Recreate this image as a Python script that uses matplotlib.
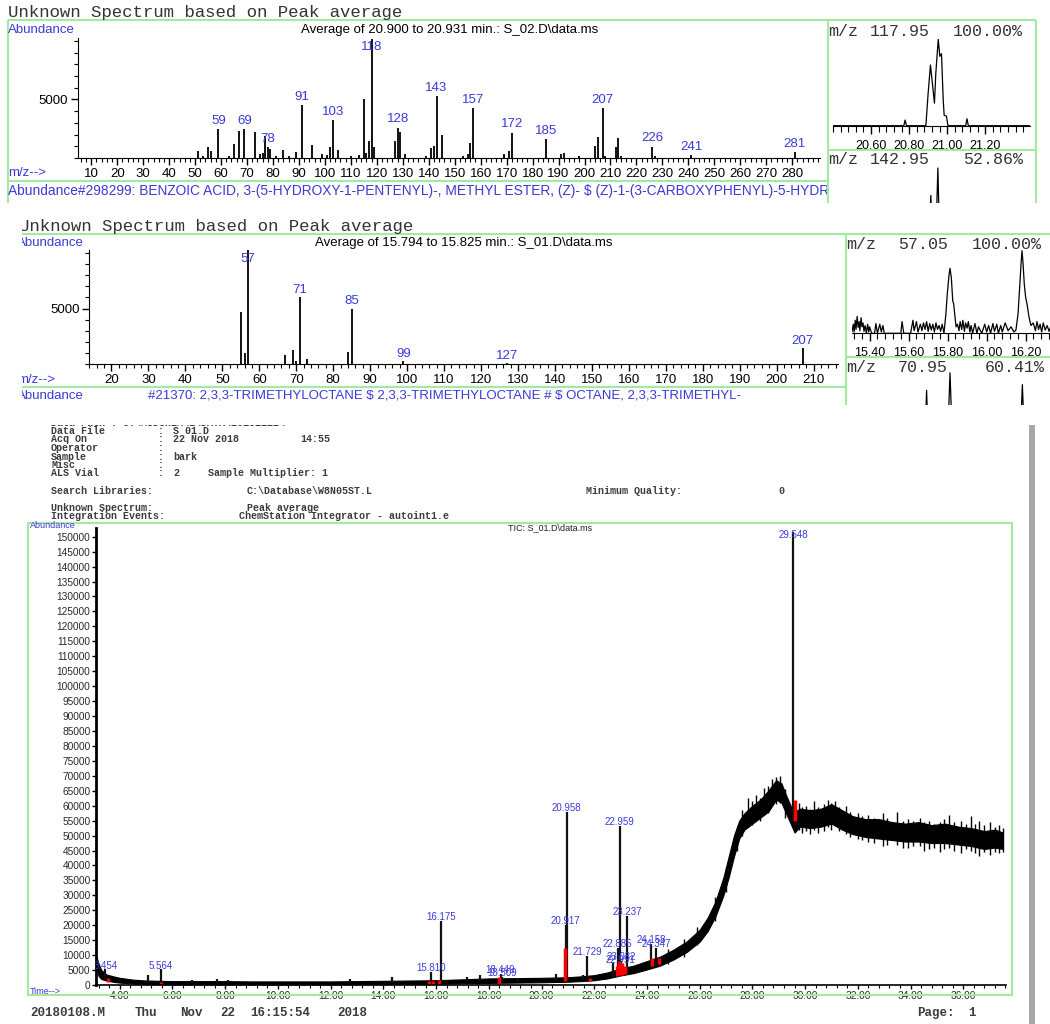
import matplotlib
matplotlib.use('Agg')
import matplotlib.pyplot as plt
import numpy as np
from matplotlib.patches import Rectangle
from matplotlib.ticker import MultipleLocator

plt.rcParams['font.family'] = ['Liberation Sans', 'DejaVu Sans']

BLUE = '#3a3ad8'
GREEN = '#a2eaa2'
GREY = '#3c3c3c'
MONO = ['Liberation Mono', 'DejaVu Sans Mono']

# --- spectrum 1 (S_02.D, 20.900 - 20.931 min)
s1_mz = [51, 53, 55, 56, 59, 63, 65, 67, 69, 73, 75, 76, 77, 78, 79, 81, 84, 86, 89, 91,
         95, 99, 101, 102, 103, 105, 110, 113, 115, 116, 117, 118, 119, 127, 128, 129,
         131, 139, 141, 142, 143, 145, 153, 155, 156, 157, 169, 171, 172, 185, 191, 192,
         198, 204, 205, 207, 208, 212, 213, 214, 226, 227, 241, 281]
s1_ab = [560, 150, 980, 560, 2480, 200, 1190, 2310, 2480, 2200, 300, 400, 1910, 960, 790, 200,
         700, 150, 470, 4510, 1100, 300, 250, 900, 3220, 680, 150, 250, 5080, 450, 1470,
         10200, 900, 1490, 2590, 2250, 300, 200, 880, 1050, 5280, 1970, 200, 300, 1240,
         4290, 300, 560, 2170, 1600, 350, 400, 150, 1050, 1800, 4290, 200, 980, 1690, 150,
         980, 150, 280, 470]
s1_labels = [59, 69, 78, 91, 103, 118, 128, 143, 157, 172, 185, 207, 226, 241, 281]
s1_ticks = list(range(10, 281, 10))

# --- spectrum 2 (S_01.D, 15.794 - 15.825 min)
s2_mz = [55, 56, 57, 67, 69, 70, 71, 73, 84, 85, 99, 127, 207]
s2_ab = [4700, 1040, 10300, 830, 1250, 320, 6040, 450, 1130, 5000, 300, 100, 1480]
s2_labels = [57, 71, 85, 99, 127, 207]
s2_ticks = list(range(20, 211, 10))

# --- ion traces (percent of the shown ion)
ion1_t = [20.40, 20.772, 20.779, 20.786, 20.888, 20.900, 20.912, 20.923, 20.933, 20.940,
          20.953, 20.961, 20.970, 20.979, 20.984, 20.996, 21.004, 21.097, 21.104, 21.111, 21.435]
ion1_v = [0, 0, 6.5, 0, 0, 38, 70, 47, 26, 60, 100, 80, 83, 30, 12, 11, 0, 0, 8, 0, 0]
ion1b_t = [20.40, 20.905, 20.914, 20.922, 20.940, 20.951, 20.960, 21.435]
ion1b_v = [0, 0, 60, 0, 0, 96, 0, 0]
ion1_ticks = [20.60, 20.80, 21.00, 21.20]

ion2_t = [15.310, 15.316, 15.320, 15.326, 15.330, 15.336, 15.341, 15.346, 15.350, 15.356,
          15.361, 15.366, 15.371, 15.377, 15.383, 15.390, 15.395, 15.400, 15.410, 15.425,
          15.432, 15.440, 15.452, 15.460, 15.468, 15.475, 15.490, 15.520, 15.560, 15.566,
          15.575, 15.610, 15.622, 15.628, 15.640, 15.648, 15.660, 15.668, 15.676, 15.684,
          15.692, 15.700, 15.708, 15.716, 15.724, 15.732, 15.740, 15.748, 15.756, 15.764,
          15.772, 15.781, 15.791, 15.798, 15.807, 15.812, 15.819, 15.826, 15.831, 15.836,
          15.843, 15.850, 15.858, 15.864, 15.872, 15.878, 15.886, 15.892, 15.900, 15.906,
          15.914, 15.920, 15.928, 15.940, 15.950, 15.958, 15.975, 15.990, 16.000, 16.010,
          16.020, 16.032, 16.040, 16.052, 16.060, 16.072, 16.080, 16.095, 16.110, 16.125,
          16.140, 16.150, 16.161, 16.169, 16.176, 16.181, 16.186, 16.193, 16.200, 16.207,
          16.217, 16.227, 16.239, 16.250, 16.258, 16.266, 16.274, 16.282, 16.290, 16.300,
          16.310, 16.320, 16.335, 16.350, 16.376]
ion2_v = [3, 14, 2, 20, 6, 26, 9, 18, 4, 24, 10, 16, 3, 12, 0, 14, 2, 10, 0, 0,
          15, 0, 14, 2, 12, 0, 0, 0, 0, 18, 0, 0, 20, 4, 18, 2, 14, 4, 16, 6,
          18, 3, 15, 5, 14, 2, 16, 6, 12, 3, 14, 0, 30, 60, 90, 100, 85, 50, 45, 30,
          10, 14, 4, 18, 6, 20, 3, 16, 8, 18, 2, 12, 0, 15, 0, 10, 0, 14, 2, 12,
          0, 15, 3, 14, 0, 12, 2, 16, 4, 10, 2, 5, 30, 70, 105, 127, 110, 75, 55, 45,
          25, 12, 16, 4, 18, 6, 14, 2, 16, 5, 12, 3, 15, 4, 10]
ion2b_t = [15.31, 15.684, 15.692, 15.700, 15.800, 15.812, 15.824, 16.172, 16.183, 16.194, 16.376]
ion2b_v = [0, 0, 71, 0, 0, 96, 0, 0, 79, 0, 0]
ion2_ticks = [15.40, 15.60, 15.80, 16.00, 16.20]

# --- TIC S_01.D : noise band (lower / upper edge)
tic_t = [3.10, 3.20, 3.30, 3.50, 3.80, 4.0, 4.5, 5.0, 6.0, 7.0, 8.0, 9.0, 10.0, 11.0, 12.0,
         13.0, 14.0, 15.0, 16.0, 17.0, 18.0, 19.0, 20.0, 21.0, 21.5, 22.0, 22.5, 23.0, 23.5,
         24.0, 24.5, 25.0, 25.5, 26.0, 26.3, 26.6, 26.9, 27.1, 27.3, 27.5, 27.7, 28.0, 28.3,
         28.6, 28.9, 29.1, 29.3, 29.45, 29.6, 29.8, 30.2, 30.6, 31.0, 31.4, 31.8, 32.3, 32.8,
         33.3, 33.8, 34.3, 34.8, 35.3, 35.8, 36.3, 36.8, 37.2, 37.5]
tic_lo = [6000, 3000, 2000, 1500, 1000, 800, 500, 300, 200, 200, 200, 200, 200, 200, 200,
          300, 300, 400, 400, 600, 700, 800, 900, 1100, 1300, 1600, 2200, 3200, 4000,
          5200, 6500, 8500, 11000, 14500, 18000, 23000, 30000, 36000, 43000, 49000, 52000,
          54000, 56000, 58000, 62000, 61000, 57000, 54000, 51000, 53000, 52500, 53000, 54000,
          52000, 50500, 49500, 49000, 48500, 48000, 48000, 47500, 47500, 47000, 46500, 45500,
          46000, 45500]
tic_hi = [10000, 7000, 5000, 3500, 2800, 2400, 1800, 1500, 1300, 1300, 1300, 1200, 1200, 1200,
          1200, 1300, 1400, 1500, 1600, 1900, 2200, 2300, 2400, 2600, 2900, 3300, 4200, 5500,
          6500, 8000, 9500, 11800, 14500, 18500, 22500, 28000, 36000, 43000, 50000, 55000,
          57500, 60000, 62000, 65000, 68500, 67500, 63000, 60000, 58000, 59000, 58500, 59000,
          60500, 58500, 56500, 55500, 55500, 54500, 54000, 54500, 53500, 54000, 53000, 52500,
          51500, 52000, 51000]

# jagged noise spikes on the band
spike_t = [24.8, 25.4, 25.9, 26.6, 27.0, 27.4, 27.6, 27.85, 28.0, 28.15, 28.3, 28.45, 28.6,
           28.75, 28.9, 29.05, 29.25, 29.75, 29.9, 30.05, 30.2, 30.35, 30.5, 30.7, 30.85,
           31.0, 31.15, 31.3, 31.55, 31.7, 32.0, 32.15, 32.4, 32.6, 32.95, 33.1, 33.5, 33.7,
           33.9, 34.1, 34.35, 34.5, 34.7, 34.9, 35.1, 35.25, 35.45, 35.65, 35.9, 36.1, 36.3,
           36.45, 36.6, 36.8, 37.0, 37.2, 37.35, 37.5]
spike_lo = [7000, 9500, 13500, 21500, 31000, 45000, 50000, 53000, 53500, 55000, 55000, 57000,
            57500, 60000, 60500, 61000, 56000, 52000, 51000, 51500, 50500, 52000, 51000, 51500,
            53000, 52000, 53500, 51500, 50500, 49500, 49000, 48500, 48000, 47500, 46500, 47000,
            47000, 46000, 46000, 46500, 46500, 45000, 45500, 46000, 44500, 45500, 46000, 45000,
            44000, 45500, 45000, 44000, 43000, 44500, 43500, 44500, 44000, 44500]
spike_hi = [12000, 15500, 19500, 29500, 39000, 52500, 58500, 62500, 61500, 63500, 62500, 66000,
            66500, 69000, 69500, 70000, 65500, 61000, 59500, 60000, 59000, 61500, 59500, 60500,
            62000, 61000, 61500, 59500, 60000, 58000, 57500, 56500, 57000, 56000, 57500, 56000,
            58000, 55000, 55500, 55000, 56000, 54500, 55000, 54000, 54500, 55500, 57000, 54500,
            55000, 54000, 56500, 54000, 55000, 53500, 54500, 53000, 53500, 52500]

# peaks: retention time, foot, apex, labelled?
pk_t = [3.454, 5.07, 5.564, 6.73, 7.68, 8.11, 12.74, 14.32, 15.810, 16.175, 17.16, 17.67,
        18.449, 18.509, 19.09, 20.55, 20.917, 20.958, 21.58, 21.729, 22.70, 22.885, 22.959,
        22.991, 23.032, 23.237, 24.158, 24.347, 29.548]
pk_base = [2000, 800, 800, 800, 800, 800, 800, 800, 1000, 1000, 1200, 1200, 1500, 1500, 1500,
           1600, 1800, 1800, 2000, 2000, 2800, 3000, 3000, 3000, 3200, 3500, 6000, 6500, 55000]
pk_top = [5200, 3500, 5200, 1800, 1900, 1800, 2000, 2600, 4500, 21400, 2800, 3400, 3600, 2800,
          2500, 3600, 20000, 58000, 3200, 9700, 7500, 12400, 53200, 7000, 8000, 23100, 13600,
          12500, 151400]
pk_named = [1, 0, 1, 0, 0, 0, 0, 0, 1, 1, 0, 0, 1, 1, 0, 0, 1, 1, 0, 1, 0, 1, 1, 1, 1, 1, 1, 1, 1]

# red integration marks
red_t = [3.55, 5.56, 15.75, 15.87, 16.12, 18.40, 20.90, 21.85, 22.85, 22.95, 23.05, 23.15,
         24.20, 24.45, 29.60]
red_lo = [1000, 0, 300, 300, 300, 500, 1300, 1500, 3000, 3200, 3500, 3800, 6500, 7000, 55000]
red_hi = [2500, 1000, 1300, 1300, 1600, 2800, 12500, 2500, 6500, 8000, 7500, 6500, 9000, 9000, 62000]

W, H = 1050, 1024
fig = plt.figure(figsize=(W / 100, H / 100), dpi=100)


def px_axes(x0, y0, x1, y1):
    return fig.add_axes([x0 / W, 1 - y1 / H, (x1 - x0) / W, (y1 - y0) / H])


def spectrum(box, xlim, mz, ab, labels, ticks, off, cap):
    ax = px_axes(*box)
    ax.patch.set_visible(False)
    ax.vlines(mz, 0, ab, color='black', lw=1.3)
    for m in labels:
        h = ab[mz.index(m)]
        ax.text(m, min(h + off, cap), str(m), ha='center', va='center', color=BLUE, fontsize=9.5)
    ax.set_xlim(*xlim)
    ax.set_ylim(0, 10250)
    ax.spines[['top', 'right']].set_visible(False)
    ax.set_xticks(ticks)
    ax.xaxis.set_minor_locator(MultipleLocator(2))
    ax.set_yticks([5000])
    ax.yaxis.set_minor_locator(MultipleLocator(1000))
    ax.tick_params(which='major', length=5, width=1, labelsize=9.5, pad=2)
    ax.tick_params(which='minor', length=3, width=0.8)
    return ax


def ion_trace(box, xlim, t, v, ymax, ticks):
    ax = px_axes(*box)
    ax.patch.set_visible(False)
    ax.plot(t, v, color='black', lw=0.9)
    ax.set_xlim(*xlim)
    ax.set_ylim(0, ymax)
    ax.spines[['top', 'right', 'left']].set_visible(False)
    ax.set_yticks([])
    ax.set_xticks(ticks, [f'{x:.2f}' for x in ticks])
    ax.xaxis.set_minor_locator(MultipleLocator(0.04))
    ax.tick_params(which='major', length=6, width=1, labelsize=9, pad=4)
    ax.tick_params(which='minor', length=4, width=0.8)
    return ax


def ion_partial(box, xlim, t, v):
    ax = px_axes(*box)
    ax.plot(t, v, color='black', lw=0.9)
    ax.set_xlim(*xlim)
    ax.set_ylim(50, 100)
    ax.axis('off')


# spectra and their ion windows
spectrum((78, 38, 820, 158), (4.9, 290.7), s1_mz, s1_ab, s1_labels, s1_ticks, 700, 9500)
spectrum((89.3, 250, 838, 364.3), (14.0, 216.6), s2_mz, s2_ab, s2_labels, s2_ticks, 650, 9400)
ion_trace((833, 39, 1030, 125.7), (20.40, 21.435), ion1_t, ion1_v, 100, ion1_ticks)
ion_partial((833, 165, 1030, 203), (20.40, 21.435), ion1b_t, ion1b_v)
ion_trace((851.7, 240, 1060, 333.3), (15.308, 16.376), ion2_t, ion2_v, 143.5, ion2_ticks)
ion_partial((851.7, 370, 1060, 405), (15.308, 16.376), ion2b_t, ion2b_v)

# TIC chromatogram
ax = px_axes(96, 528, 1006, 985)
ax.patch.set_visible(False)
ax.fill_between(tic_t, tic_lo, tic_hi, color='black', lw=0.8)
ax.vlines(spike_t, spike_lo, spike_hi, color='black', lw=1.0)
ax.vlines(pk_t, pk_base, pk_top, color='#111111', lw=1.6)
ax.vlines(red_t, red_lo, red_hi, color='red', lw=2.5)
for t, top, named in zip(pk_t, pk_top, pk_named):
    if named:
        ax.text(t, min(top + 1300, 150600), f'{t:.3f}', ha='center', va='center',
                color=BLUE, fontsize=7, clip_on=True)
ax.set_xlim(3.10, 37.62)
ax.set_ylim(0, 152900)
ax.spines[['top', 'right']].set_visible(False)
ax.spines['left'].set_linewidth(2)
ax.spines['bottom'].set_linewidth(1.2)
xt = list(range(4, 37, 2))
ax.set_xticks(xt, [f'{x:.2f}' for x in xt])
ax.xaxis.set_minor_locator(MultipleLocator(0.4))
yt = list(range(0, 150001, 5000))
ax.set_yticks(yt, [str(y) for y in yt])
ax.tick_params(which='major', length=3, width=1, labelsize=7.3, pad=1, labelcolor='#2a2a2a')
ax.tick_params(which='minor', length=2, width=0.8)

# overlay for frames and page text
ov = px_axes(0, 0, W, H)
ov.set_xlim(0, W)
ov.set_ylim(H, 0)
ov.axis('off')
ov.set_zorder(10)


def line(x0, y0, x1, y1, color=GREEN, lw=1.5):
    ov.plot([x0, x1], [y0, y1], color=color, lw=lw, solid_capstyle='butt')


def txt(x, y, s, clip=None, **kw):
    kw.setdefault('va', 'center')
    kw.setdefault('parse_math', False)
    t = ov.text(x, y, s, **kw)
    if clip is not None:
        r = Rectangle((clip[0], clip[1]), clip[2] - clip[0], clip[3] - clip[1], transform=ov.transData)
        t.set_clip_on(True)
        t.set_clip_path(r)
    return t


# top block frames
line(8, 20, 1036, 20)
line(8, 20, 8, 203)
line(8, 181, 828, 181)
line(828, 20, 828, 203)
line(1036, 20, 1036, 203)
line(828, 150, 1036, 150)
# middle block frames
line(22, 234.3, 1050, 234.3)
line(846, 234.3, 846, 405)
line(22, 386.7, 846, 386.7)
line(846, 356.7, 1050, 356.7)
# chromatogram frame
ov.add_patch(Rectangle((28, 523), 984, 472, fill=False, ec=GREEN, lw=1.5))
ov.add_patch(Rectangle((1029, 425), 6, 599, color='#a8a8a8', lw=0))

# top block text
txt(8, 13, 'Unknown Spectrum based on Peak average', family=MONO, fontsize=12.5, color='#333333')
txt(8, 30, 'Abundance', color=BLUE, fontsize=9.5)
txt(450, 30, 'Average of 20.900 to 20.931 min.: S_02.D\\data.ms', ha='center', fontsize=9.5)
txt(8, 173, 'm/z-->', color=BLUE, fontsize=9.5)
txt(8, 191, 'Abundance#298299: BENZOIC ACID, 3-(5-HYDROXY-1-PENTENYL)-, METHYL ESTER, (Z)- '
    '$ (Z)-1-(3-CARBOXYPHENYL)-5-HYDROXY-1-PENTENE', clip=(8, 182, 827, 203),
    color=BLUE, fontsize=9.9)
for x, s in [(828, 'm/z'), (870, '117.95'), (953, '100.00%')]:
    txt(x, 31, s, family=MONO, fontsize=12, color='#333333')
for x, s in [(828, 'm/z'), (870, '142.95'), (963, '52.86%')]:
    txt(x, 160, s, family=MONO, fontsize=12, color='#333333')

# middle block text (left edge cut off)
txt(19, 226.7, 'Unknown Spectrum based on Peak average', family=MONO, fontsize=12.5, color='#333333')
txt(17, 242.7, 'Abundance', color=BLUE, fontsize=9.5)
txt(464, 243, 'Average of 15.794 to 15.825 min.: S_01.D\\data.ms', ha='center', fontsize=9.5)
txt(17, 380, 'm/z-->', color=BLUE, fontsize=9.5)
txt(17, 396, 'Abundance', color=BLUE, fontsize=9.5)
txt(148, 396, '#21370: 2,3,3-TRIMETHYLOCTANE $ 2,3,3-TRIMETHYLOCTANE # $ OCTANE, 2,3,3-TRIMETHYL-',
    color=BLUE, fontsize=9.5)
for x, s in [(846, 'm/z'), (898, '57.05'), (972, '100.00%')]:
    txt(x, 244.3, s, family=MONO, fontsize=12, color='#333333')
for x, s in [(846, 'm/z'), (898, '70.95'), (985, '60.41%')]:
    txt(x, 367.3, s, family=MONO, fontsize=12, color='#333333')

# report header
hdr = dict(family=MONO, fontsize=7.2, weight='bold', color=GREY)
txt(51, 422.5, 'Data Path : C:\\MSDCHEM\\1\\DATA\\20181122\\', **hdr)
rows = [(431, 'Data File', ':', 'S 01.D'),
        (438.8, 'Acq On', ':', '22 Nov 2018'),
        (448, 'Operator', ':', ''),
        (456.5, 'Sample', ':', 'bark'),
        (464.5, 'Misc', ':', ''),
        (473.3, 'ALS Vial', ':', '2')]
for y, a, b, c in rows:
    txt(51, y, a, **hdr)
    txt(158, y, b, **hdr)
    txt(173, y, c, **hdr)
txt(300, 438.8, '14:55', **hdr)
txt(208, 473.3, 'Sample Multiplier: 1', **hdr)
txt(51, 491.5, 'Search Libraries:', **hdr)
txt(247, 491.5, 'C:\\Database\\W8N05ST.L', **hdr)
txt(586, 491.5, 'Minimum Quality:', **hdr)
txt(778, 491.5, '0', **hdr)
txt(51, 508, 'Unknown Spectrum:', **hdr)
txt(247, 508, 'Peak average', **hdr)
txt(51, 516, 'Integration Events:', **hdr)
txt(239, 516, 'ChemStation Integrator - autoint1.e', **hdr)

txt(30, 525.5, 'Abundance', color=BLUE, fontsize=6.5)
txt(550, 528, 'TIC: S_01.D\\data.ms', ha='center', fontsize=6.5, color='#222222')
txt(30, 992, 'Time-->', color=BLUE, fontsize=6.5)

foot = dict(family=MONO, fontsize=9, weight='bold', color=GREY)
for x, s in [(30, '20180108.M'), (135, 'Thu'), (180, 'Nov'), (220, '22'), (250, '16:15:54'),
             (337, '2018'), (917, 'Page:'), (968, '1')]:
    txt(x, 1013, s, **foot)

# crops of the scanned page
ov.add_patch(Rectangle((0, 203), W, 11, color='white', lw=0, zorder=5))
ov.add_patch(Rectangle((0, 214), 22, 191, color='white', lw=0, zorder=5))
ov.add_patch(Rectangle((0, 405), 1028, 19.5, color='white', lw=0, zorder=5))
ov.add_patch(Rectangle((1036, 405), 14, 619, color='white', lw=0, zorder=5))

fig.savefig('out.png', dpi=100)
